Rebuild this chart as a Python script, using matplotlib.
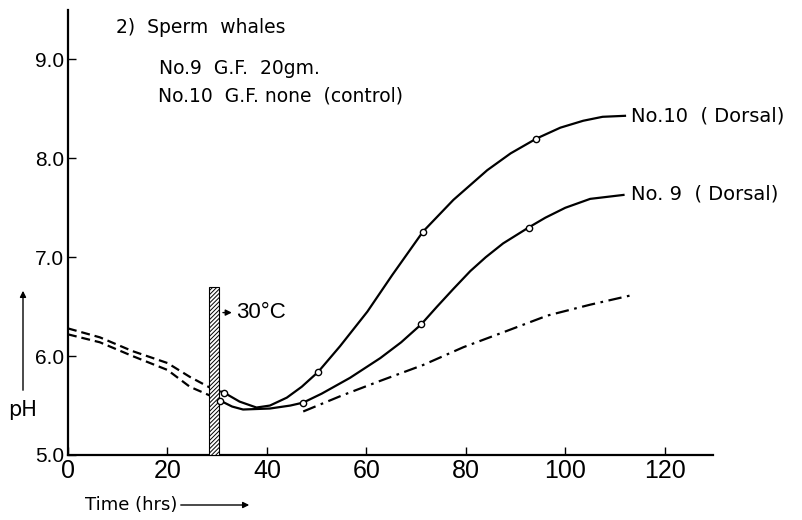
import numpy as np
import matplotlib
matplotlib.use("Agg")
import matplotlib.pyplot as plt

# values (time in hrs, pH)
no10_pre_t = [0, 6.4, 13, 20, 24.5, 28.6, 31.4]
no10_pre_ph = [6.28, 6.19, 6.05, 5.93, 5.79, 5.68, 5.63]
no9_pre_t = [0, 6.4, 13, 20, 24.5, 28.6, 30.6]
no9_pre_ph = [6.22, 6.14, 6.00, 5.86, 5.69, 5.60, 5.55]

no10_t = [31.4, 34.5, 37.9, 40.6, 44, 47, 50.3, 54.7, 60.2, 65.2, 71.4, 77.5, 84.3, 89, 94.2, 99, 103.6, 107.5, 112]
no10_ph = [5.63, 5.54, 5.48, 5.50, 5.58, 5.69, 5.84, 6.10, 6.45, 6.82, 7.26, 7.58, 7.88, 8.05, 8.20, 8.31, 8.38, 8.42, 8.43]
no9_t = [30.6, 33, 35.2, 40.6, 44.7, 47.3, 51, 56.7, 62.8, 67, 71, 74.2, 77.5, 80.9, 84, 87.5, 92.6, 96, 100, 105, 111.7]
no9_ph = [5.55, 5.49, 5.46, 5.47, 5.50, 5.53, 5.62, 5.78, 5.98, 6.14, 6.32, 6.50, 6.68, 6.86, 7.00, 7.14, 7.30, 7.40, 7.50, 7.59, 7.63]
ctrl_t = [47.3, 55, 62.8, 71.4, 79.5, 88, 96.4, 105, 113.7]
ctrl_ph = [5.44, 5.60, 5.75, 5.91, 6.09, 6.25, 6.41, 6.52, 6.62]

# measured points (open circles)
no10_obs_t = [31.4, 50.3, 71.4, 94.2]
no10_obs_ph = [5.63, 5.84, 7.26, 8.20]
no9_obs_t = [30.6, 47.3, 71.0, 92.6]
no9_obs_ph = [5.55, 5.53, 6.32, 7.30]

temp_shift_hr = 29.4
temp_bar_top = 6.7

xticks = [0, 20, 40, 60, 80, 100, 120]
yticks = [5.0, 6.0, 7.0, 8.0, 9.0]

tickfont = "Liberation Sans"

fig = plt.figure(figsize=(8.03, 5.20), dpi=100)
ax = fig.add_axes([68 / 803, 65 / 520, 645 / 803, 445 / 520])

lw = 1.6
ax.plot(no10_pre_t, no10_pre_ph, color="black", lw=lw, ls=(0, (4, 2.2)))
ax.plot(no9_pre_t, no9_pre_ph, color="black", lw=lw, ls=(0, (4, 2.2)))
ax.plot(no10_t, no10_ph, color="black", lw=lw)
ax.plot(no9_t, no9_ph, color="black", lw=lw)
ax.plot(ctrl_t, ctrl_ph, color="black", lw=lw, ls=(0, (6, 2.5, 1.2, 2.5)))
ax.plot(no10_obs_t, no10_obs_ph, "o", ms=4.5, mfc="white", mec="black", mew=1.0, zorder=5)
ax.plot(no9_obs_t, no9_obs_ph, "o", ms=4.5, mfc="white", mec="black", mew=1.0, zorder=5)

# hatched bar marking the move to 30 C
plt.rcParams["hatch.linewidth"] = 0.7
ax.bar(temp_shift_hr, temp_bar_top - 5.0, bottom=5.0, width=2.0, facecolor="white",
       edgecolor="black", hatch="////////", lw=0.8, zorder=4)
ax.annotate("", xy=(33.5, 6.44), xytext=(30.6, 6.44),
            arrowprops=dict(arrowstyle="-|>", color="black", lw=1.0, mutation_scale=9))
ax.text(33.8, 6.44, "30°C", fontsize=16, family=tickfont, va="center", ha="left")

# curve labels with leader
ax.text(113.3, 8.43, "No.10  ( Dorsal)", fontsize=14, va="center", ha="left")
ax.text(113.3, 7.64, "No. 9  ( Dorsal)", fontsize=14, va="center", ha="left")

ax.text(9.6, 9.32, "2)  Sperm  whales", fontsize=13.5, va="center")
ax.text(18.2, 8.91, "No.9  G.F.  20gm.", fontsize=13.5, va="center")
ax.text(18.0, 8.63, "No.10  G.F. none  (control)", fontsize=13.5, va="center")

ax.set_xlim(0, 129.7)
ax.set_ylim(5.0, 9.5)
ax.set_xticks(xticks)
ax.set_yticks(yticks)
ax.set_xticklabels([str(v) for v in xticks], fontsize=18, family=tickfont)
ax.set_yticklabels(["%.1f" % v for v in yticks], fontsize=15, family=tickfont)
ax.tick_params(direction="in", length=6, width=1.0)
ax.tick_params(axis="x", pad=3)
ax.tick_params(axis="y", pad=3)
for s in ["top", "right"]:
    ax.spines[s].set_visible(False)
for s in ["left", "bottom"]:
    ax.spines[s].set_linewidth(1.6)

# axis names with arrows, as drawn on the original
fig.text(8 / 803, 1 - 410 / 520, "pH", fontsize=15, va="center", ha="left")
fig.add_artist(matplotlib.patches.FancyArrowPatch((23 / 803, 1 - 393 / 520), (23 / 803, 1 - 288 / 520),
               transform=fig.transFigure, arrowstyle="-|>", mutation_scale=9, lw=1.0, color="black"))
fig.text(85 / 803, 1 - 505 / 520, "Time (hrs)", fontsize=13, va="center", ha="left")
fig.add_artist(matplotlib.patches.FancyArrowPatch((178 / 803, 1 - 505 / 520), (252 / 803, 1 - 505 / 520),
               transform=fig.transFigure, arrowstyle="-|>", mutation_scale=9, lw=1.0, color="black"))

fig.savefig("out.png", dpi=100)
